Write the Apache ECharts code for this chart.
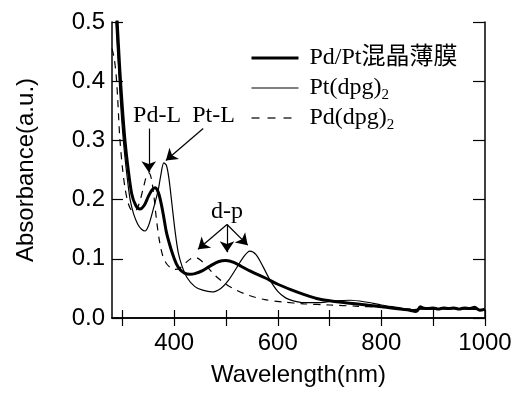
<!DOCTYPE html>
<html>
<head>
<meta charset="utf-8">
<script src="https://cdn.jsdelivr.net/npm/echarts@6/dist/echarts.min.js"></script>
<style>
  html, body { margin: 0; padding: 0; background: #fff; }
  #chart { width: 515px; height: 395px; }
</style>
</head>
<body>
<div id="chart"></div>
<script>
// Pd/Pt 混晶薄膜
const filmWl = [286, 290, 295, 300, 305, 310, 318, 326, 334, 342, 350, 357, 363, 369, 374, 379, 385, 391, 397, 404, 412, 420, 430, 440, 455, 470, 485, 500, 515, 530, 550, 575, 600, 625, 650, 675, 700, 750, 800, 850, 860, 865, 870, 875, 880, 890, 900, 910, 920, 930, 940, 950, 960, 970, 980, 990, 1000]
const filmAbs = [0.56, 0.50, 0.42, 0.355, 0.30, 0.26, 0.21, 0.19, 0.184, 0.19, 0.205, 0.216, 0.22, 0.213, 0.197, 0.175, 0.145, 0.125, 0.108, 0.092, 0.081, 0.076, 0.074, 0.075, 0.08, 0.088, 0.095, 0.097, 0.094, 0.087, 0.078, 0.068, 0.057, 0.048, 0.04, 0.033, 0.029, 0.024, 0.019, 0.014, 0.012, 0.011, 0.013, 0.019, 0.017, 0.016, 0.017, 0.015, 0.017, 0.016, 0.017, 0.015, 0.017, 0.016, 0.018, 0.013, 0.015]

// Pt(dpg)2
const ptWl = [284, 288, 292, 296, 300, 304, 309, 315, 322, 330, 337, 344, 350, 357, 364, 369, 374, 380, 385, 390, 396, 402, 408, 415, 425, 440, 455, 473, 490, 505, 520, 533, 546, 558, 572, 585, 600, 615, 630, 650, 680, 710, 740, 770, 800, 830, 860, 880, 900, 930, 960, 1000]
const ptAbs = [0.56, 0.49, 0.43, 0.37, 0.32, 0.28, 0.24, 0.2, 0.175, 0.158, 0.15, 0.147, 0.155, 0.175, 0.198, 0.215, 0.24, 0.262, 0.258, 0.235, 0.19, 0.145, 0.11, 0.088, 0.068, 0.053, 0.047, 0.044, 0.05, 0.064, 0.084, 0.102, 0.113, 0.107, 0.086, 0.064, 0.045, 0.034, 0.029, 0.026, 0.026, 0.029, 0.03, 0.027, 0.022, 0.018, 0.014, 0.016, 0.015, 0.016, 0.015, 0.014]

// Pd(dpg)2
const pdWl = [280, 284, 288, 291, 295, 300, 305, 310, 316, 324, 332, 340, 346, 351, 356, 361, 366, 372, 378, 385, 393, 402, 412, 422, 432, 442, 452, 465, 480, 500, 520, 545, 575, 610, 650, 700, 750, 800, 850, 900, 950, 1000]
const pdAbs = [0.455, 0.44, 0.41, 0.37, 0.305, 0.255, 0.22, 0.198, 0.184, 0.18, 0.192, 0.218, 0.238, 0.245, 0.235, 0.205, 0.165, 0.128, 0.105, 0.092, 0.085, 0.082, 0.085, 0.093, 0.1, 0.102, 0.097, 0.085, 0.071, 0.057, 0.047, 0.038, 0.031, 0.027, 0.024, 0.022, 0.02, 0.018, 0.015, 0.015, 0.016, 0.014]

const seriesNames = ['Pd/Pt混晶薄膜', 'Pt(dpg)2', 'Pd(dpg)2']
const xTicks = [300, 400, 500, 600, 700, 800, 900, 1000]
const xLabels = [400, 600, 800, 1000]

// annotations (data coordinates)
const noteTexts = [
  { name: 'Pd-L', coord: [367, 0.342] },
  { name: 'Pt-L', coord: [476, 0.342] },
  { name: 'd-p', coord: [502, 0.18] }
]
const noteArrows = [
  [[351, 0.32], [351, 0.246]],
  [[456, 0.32], [384, 0.266]],
  [[502, 0.158], [446, 0.116]],
  [[502, 0.158], [502, 0.111]],
  [[502, 0.158], [542, 0.123]]
]

const zip = (xs, ys) => xs.map((x, i) => [x, ys[i]])

const sans = 'Liberation Sans, Arial, sans-serif'
const serif = 'Liberation Serif, Times New Roman, Noto Sans CJK JP, serif'

const chart = echarts.init(document.getElementById('chart'))

const frameAxis = {
  axisLine: { show: true, lineStyle: { color: '#000', width: 1.5 } },
  splitLine: { show: false }
}
const lineWidths = [3, 1.2, 1.2]
const lineTypes = ['solid', 'solid', [7, 6]]

chart.setOption({
  animation: false,
  backgroundColor: '#fff',
  grid: { left: 112, right: 30, top: 22, bottom: 77 },
  legend: {
    orient: 'vertical',
    left: 250,
    top: 43,
    padding: 0,
    itemGap: 0,
    itemWidth: 47,
    itemHeight: 14,
    itemStyle: { color: 'rgba(0,0,0,0)', borderWidth: 0, opacity: 0 },
    data: seriesNames.map((name, i) => ({
      name,
      lineStyle: { color: '#000', width: lineWidths[i], type: i === 2 ? [8, 8] : lineTypes[i] }
    })),
    formatter: name => name.replace(/\)2$/, '){sub|2}'),
    textStyle: {
      fontFamily: serif,
      fontSize: 24,
      color: '#000',
      lineHeight: 30,
      padding: [0, 0, 0, 6],
      rich: {
        sub: { fontFamily: serif, fontSize: 15, lineHeight: 16, verticalAlign: 'bottom', color: '#000' }
      }
    }
  },
  xAxis: [
    {
      ...frameAxis,
      type: 'value',
      min: 280,
      max: 1000,
      name: 'Wavelength(nm)',
      nameLocation: 'middle',
      nameGap: 45,
      nameTextStyle: { fontFamily: sans, fontSize: 24, color: '#000' },
      axisTick: { inside: true, length: 8, customValues: xTicks, lineStyle: { color: '#000', width: 1.2 } },
      axisLabel: { customValues: xLabels, margin: 13, fontFamily: sans, fontSize: 24, color: '#000', formatter: v => String(v) }
    },
    {
      ...frameAxis,
      type: 'value',
      position: 'top',
      min: 280,
      max: 1000,
      axisTick: { inside: true, length: 8, customValues: xTicks, lineStyle: { color: '#000', width: 1.2 } },
      axisLabel: { show: false }
    }
  ],
  yAxis: [
    {
      ...frameAxis,
      type: 'value',
      min: 0,
      max: 0.5,
      interval: 0.1,
      name: 'Absorbance(a.u.)',
      nameLocation: 'middle',
      nameGap: 74,
      nameTextStyle: { fontFamily: sans, fontSize: 24, color: '#000' },
      axisTick: { inside: true, length: 11, lineStyle: { color: '#000', width: 1.2 } },
      axisLabel: { margin: 7, fontFamily: sans, fontSize: 24, color: '#000', formatter: v => v.toFixed(1) }
    },
    {
      ...frameAxis,
      type: 'value',
      position: 'right',
      min: 0,
      max: 0.5,
      interval: 0.1,
      axisTick: { inside: true, length: 12, lineStyle: { color: '#000', width: 1.2 } },
      axisLabel: { show: false }
    }
  ],
  series: [
    {
      name: seriesNames[0],
      type: 'line',
      data: zip(filmWl, filmAbs),
      smooth: 0.3,
      symbol: 'none',
      lineStyle: { color: '#000', width: lineWidths[0] },
      itemStyle: { color: '#000' },
      z: 3,
      markLine: {
        silent: true,
        symbol: ['none', 'arrow'],
        symbolSize: 11,
        label: { show: false },
        lineStyle: { color: '#000', width: 1.2, type: 'solid' },
        data: noteArrows.map(([a, b]) => [{ coord: a }, { coord: b }])
      },
      markPoint: {
        silent: true,
        symbol: 'circle',
        symbolSize: 1,
        itemStyle: { color: 'rgba(0,0,0,0)' },
        label: {
          show: true,
          position: 'inside',
          formatter: p => p.name,
          fontFamily: serif,
          fontSize: 24,
          color: '#000'
        },
        data: noteTexts
      }
    },
    {
      name: seriesNames[1],
      type: 'line',
      data: zip(ptWl, ptAbs),
      smooth: 0.3,
      symbol: 'none',
      lineStyle: { color: '#000', width: lineWidths[1] },
      itemStyle: { color: '#000' }
    },
    {
      name: seriesNames[2],
      type: 'line',
      data: zip(pdWl, pdAbs),
      smooth: 0.3,
      symbol: 'none',
      lineStyle: { color: '#000', width: lineWidths[2], type: lineTypes[2] },
      itemStyle: { color: '#000' }
    }
  ]
})
</script>
</body>
</html>
